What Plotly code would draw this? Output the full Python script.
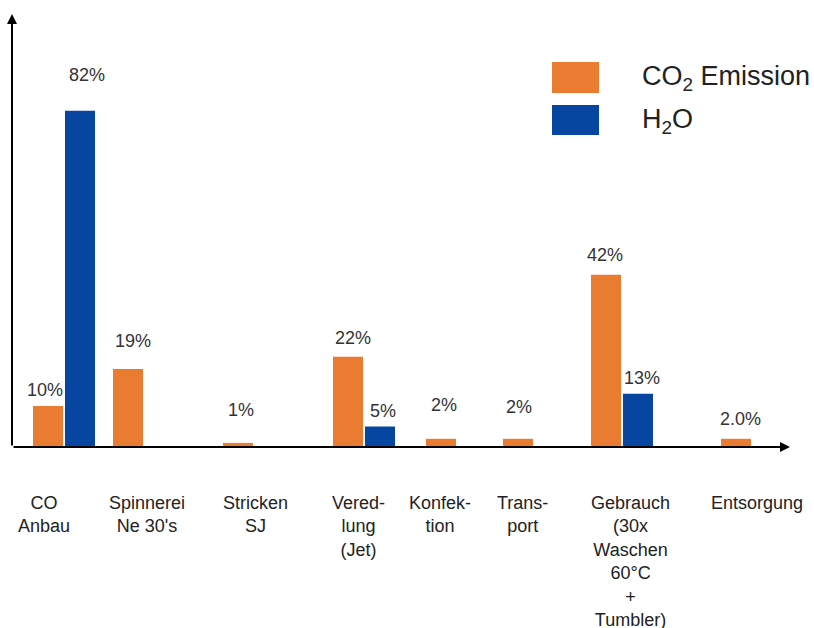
import plotly.graph_objects as go

# --- data -------------------------------------------------------------
stages = ["CO<br>Anbau", "Spinnerei<br>Ne 30's", "Stricken<br>SJ", "Vered-<br>lung<br>(Jet)",
          "Konfek-<br>tion", "Trans-<br>port", "Gebrauch<br>(30x<br>Waschen<br>60°C<br>+<br>Tumbler)",
          "Entsorgung"]
co2_values = [10, 19, 1, 22, 2, 2, 42, 2]
h2o_values = [82, None, None, 5, None, None, 13, None]
co2_text = ["10%", "19%", "1%", "22%", "2%", "2%", "42%", "2.0%"]
h2o_text = ["82%", None, None, "5%", None, None, "13%", None]

# --- layout helpers (x axis runs in pixel units) -----------------------
group_x = [64, 144, 254, 364, 457, 534, 622, 752]
stage_label_x = [44, 147, 255, 358, 440, 522, 630, 757]
co2_label_shift = [(-3, 16), (5, 28), (3, 33), (5, 19), (3, 34), (1, 32), (-1, 20), (4, 20)]
h2o_label_shift = [(7, 36), None, None, (3, 16), None, None, (4, 16), None]

W, H = 814, 628
BASE_PX = 447            # pixel row of the value axis origin
PX_PER_UNIT = 4.1
y_top = BASE_PX / PX_PER_UNIT

def ypx(py):
    return (BASE_PX - py) / PX_PER_UNIT

ORANGE = "#E97C30"
BLUE = "#0746A0"
TXT = "#333333"
FONT = "Liberation Sans, Arial, sans-serif"
BAR_W = 30

fig = go.Figure()
fig.add_trace(go.Bar(x=group_x, y=co2_values, width=BAR_W, offset=-31,
                     marker=dict(color=ORANGE, line=dict(width=0)), name="CO2 Emission"))
fig.add_trace(go.Bar(x=group_x, y=h2o_values, width=BAR_W, offset=1,
                     marker=dict(color=BLUE, line=dict(width=0)), name="H2O"))

ann = []
# value labels above the bars
for gx, v, t, sh in zip(group_x, co2_values, co2_text, co2_label_shift):
    ann.append(dict(x=gx - 16, y=v, text=t, showarrow=False, xshift=sh[0], yshift=sh[1],
                    yanchor="middle", font=dict(size=18, color=TXT, family=FONT)))
for gx, v, t, sh in zip(group_x, h2o_values, h2o_text, h2o_label_shift):
    if v is None:
        continue
    ann.append(dict(x=gx + 16, y=v, text=t, showarrow=False, xshift=sh[0], yshift=sh[1],
                    yanchor="middle", font=dict(size=18, color=TXT, family=FONT)))

# stage names under the axis
for lx, s in zip(stage_label_x, stages):
    ann.append(dict(x=lx, y=0, text=s, showarrow=False, yanchor="top", yshift=-44,
                    align="center", font=dict(size=18, color="#222222", family=FONT)))

# axes drawn as arrows
ann.append(dict(x=790, y=0, ax=12, ay=0, xref="x", yref="y", axref="x", ayref="y",
                showarrow=True, arrowhead=2, arrowsize=1, arrowwidth=2, arrowcolor="black", text=""))
ann.append(dict(x=12, y=ypx(14), ax=12, ay=0, xref="x", yref="y", axref="x", ayref="y",
                showarrow=True, arrowhead=2, arrowsize=1, arrowwidth=2, arrowcolor="black", text=""))

# legend
ann.append(dict(x=640, y=ypx(78), text="CO<sub>2</sub> Emission", showarrow=False, xanchor="left",
                yanchor="middle", font=dict(size=27, color="#222222", family=FONT)))
ann.append(dict(x=640, y=ypx(121), text="H<sub>2</sub>O", showarrow=False, xanchor="left",
                yanchor="middle", font=dict(size=27, color="#222222", family=FONT)))
shapes = [
    dict(type="rect", xref="x", yref="y", x0=552, x1=599, y0=ypx(62), y1=ypx(93),
         fillcolor=ORANGE, line=dict(width=0)),
    dict(type="rect", xref="x", yref="y", x0=552, x1=599, y0=ypx(105), y1=ypx(135),
         fillcolor=BLUE, line=dict(width=0)),
]

fig.update_layout(
    width=W, height=H,
    margin=dict(l=0, r=0, t=0, b=H - BASE_PX, pad=0),
    paper_bgcolor="white", plot_bgcolor="white",
    showlegend=False,
    barmode="overlay",
    xaxis=dict(range=[0, W], visible=False, fixedrange=True),
    yaxis=dict(range=[0, y_top], visible=False, fixedrange=True),
    annotations=ann, shapes=shapes,
)

fig.write_html("out.html")
